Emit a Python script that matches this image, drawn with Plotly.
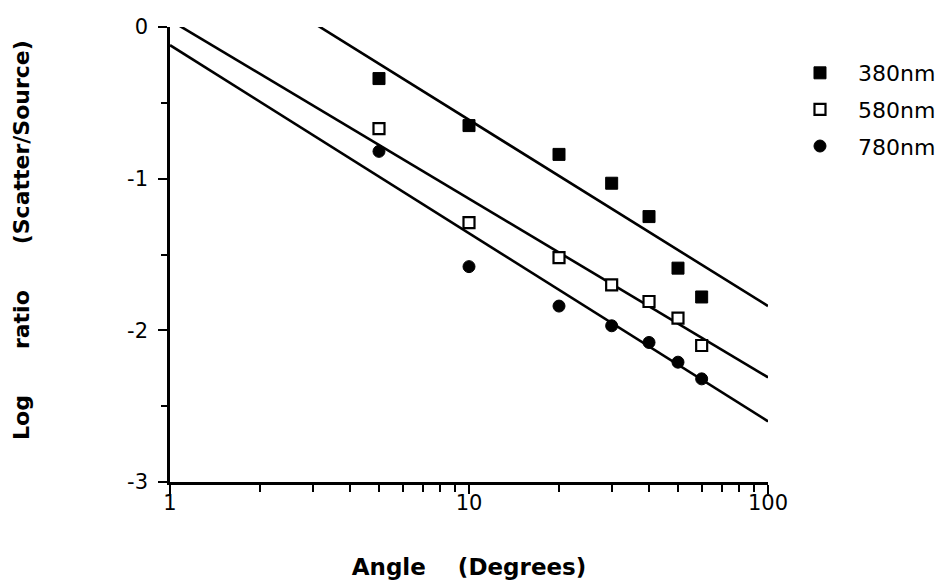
import plotly.graph_objects as go

angles = [5, 10, 20, 30, 40, 50, 60]
y380 = [-0.34, -0.65, -0.84, -1.03, -1.25, -1.59, -1.78]
y580 = [-0.67, -1.29, -1.52, -1.70, -1.81, -1.92, -2.10]
y780 = [-0.82, -1.58, -1.84, -1.97, -2.08, -2.21, -2.32]

fit380_x = [3.0, 100]
fit380_y = [0.03, -1.84]
fit580_x = [1.03, 100]
fit580_y = [0.03, -2.31]
fit780_x = [1.0, 100]
fit780_y = [-0.12, -2.60]

names = ["380nm", "580nm", "780nm"]
x_ticks = [1, 10, 100]
y_ticks = [0, -1, -2, -3]

fig = go.Figure()
for fx, fy in [(fit380_x, fit380_y), (fit580_x, fit580_y), (fit780_x, fit780_y)]:
    fig.add_trace(go.Scatter(x=fx, y=fy, mode="lines", line=dict(color="black", width=2.6),
                             showlegend=False, hoverinfo="skip"))

fig.add_trace(go.Scatter(x=angles, y=y380, mode="markers", name=names[0], legendgroup="a",
                         marker=dict(symbol="square", size=12, color="black",
                                     line=dict(color="black", width=1))))
fig.add_trace(go.Scatter(x=angles, y=y580, mode="markers", name=names[1], legendgroup="b",
                         marker=dict(symbol="square", size=11, color="white",
                                     line=dict(color="black", width=2.2))))
fig.add_trace(go.Scatter(x=angles, y=y780, mode="markers", name=names[2], legendgroup="c",
                         marker=dict(symbol="circle", size=12, color="black",
                                     line=dict(color="black", width=1))))

tickfont = dict(family="DejaVu Sans, sans-serif", size=21, color="black")
titlefont = dict(family="DejaVu Sans, sans-serif", size=23, color="black", weight="bold")
ytitlefont = dict(family="DejaVu Sans, sans-serif", size=22, color="black", weight="bold")
nb = "\u00a0"

fig.update_layout(
    width=946, height=586,
    margin=dict(l=170, r=178, t=27, b=104, autoexpand=False),
    paper_bgcolor="white", plot_bgcolor="white",
    showlegend=True,
    legend=dict(x=1.0234, xanchor="left", y=0.945, yanchor="top",
                font=dict(family="DejaVu Sans, sans-serif", size=22, color="black"),
                traceorder="grouped", tracegroupgap=5, itemwidth=66,
                bgcolor="rgba(0,0,0,0)"),
    xaxis=dict(type="log", range=[0, 2], showgrid=False, zeroline=False, automargin=False,
               showline=True, linecolor="black", linewidth=2.5,
               ticks="outside", ticklen=9, tickwidth=2, tickcolor="black",
               tickvals=x_ticks, ticktext=[str(v) for v in x_ticks],
               tickfont=tickfont, ticklabelstandoff=-9,
               minor=dict(ticks="outside", ticklen=7, tickwidth=2, tickcolor="black",
                          tickvals=[2, 3, 4, 5, 6, 7, 8, 9, 20, 30, 40, 50, 60, 70, 80, 90]),
               title=dict(text="Angle" + nb * 4 + "(Degrees)", font=titlefont, standoff=45)),
    yaxis=dict(range=[-3, 0], showgrid=False, zeroline=False, automargin=False,
               showline=True, linecolor="black", linewidth=2.5,
               ticks="outside", ticklen=9, tickwidth=2, tickcolor="black",
               tickvals=y_ticks, ticktext=[str(v) for v in y_ticks],
               tickfont=tickfont, ticklabelstandoff=6,
               minor=dict(ticks="outside", ticklen=6, tickwidth=2, tickcolor="black",
                          tickvals=[-0.5, -1.5, -2.5])),
    annotations=[dict(text="Log" + nb * 6 + "ratio" + nb * 6 + "(Scatter/Source)",
                      xref="paper", yref="paper", x=-0.2475, y=0.532,
                      xanchor="center", yanchor="middle", textangle=-90,
                      showarrow=False, font=ytitlefont)],
)

fig.write_html("out.html")
